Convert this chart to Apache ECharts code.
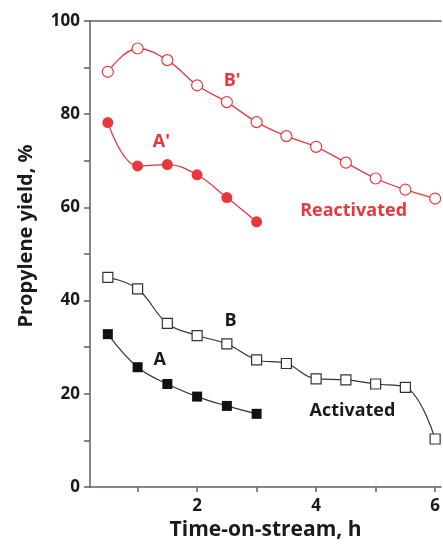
<!DOCTYPE html>
<html><head><meta charset="utf-8">
<script src="https://cdn.jsdelivr.net/npm/echarts@6/dist/echarts.min.js"></script>
<style>html,body{margin:0;padding:0;background:#fff}#c{width:443px;height:546px}</style>
</head><body><div id="c"></div>
<script>
const timeH = [0.5, 1, 1.5, 2, 2.5, 3, 3.5, 4, 4.5, 5, 5.5, 6];
const seriesA = [32.8, 25.7, 22.1, 19.4, 17.4, 15.7];
const seriesB = [45.0, 42.5, 35.1, 32.5, 30.7, 27.3, 26.5, 23.2, 23.0, 22.1, 21.4, 10.3];
const seriesA2 = [78.2, 68.9, 69.2, 67.0, 62.1, 56.9];
const seriesB2 = [89.1, 94.1, 91.6, 86.2, 82.6, 78.3, 75.3, 73.0, 69.6, 66.2, 63.8, 61.9];
const xTicks = [1, 2, 3, 4, 5, 6];
const xLabels = [2, 4, 6];
const yTicks = [0, 10, 20, 30, 40, 50, 60, 70, 80, 90, 100];

const RED = '#e8383d', BLACK = '#1a1a1a', AXIS = '#5b6068';
const FONT = 'Open Sans';
const pairs = (ys) => ys.map((v, i) => [timeH[i], v]);
function note(text, x, y, color, size) {
  return { coord: [x, y], symbol: 'circle', symbolSize: 0,
    label: { show: true, position: 'inside', formatter: text, color: color,
      fontFamily: FONT, fontWeight: 'bold', fontSize: size } };
}
const chart = echarts.init(document.getElementById('c'), null, { renderer: 'canvas' });
chart.setOption({
  animation: false,
  backgroundColor: '#fff',
  grid: { left: 90, right: 0, top: 21, bottom: 59 },
  graphic: [{
    type: 'text', x: 26, y: 236, rotation: Math.PI / 2,
    style: { text: 'Propylene yield, %', fill: BLACK, font: 'bold 20px "Open Sans"',
      align: 'center', verticalAlign: 'middle' }
  }],
  xAxis: [{
    type: 'value', min: 0.2, max: 6.1, position: 'bottom',
    name: 'Time-on-stream, h', nameLocation: 'middle', nameGap: 33,
    nameTextStyle: { fontFamily: FONT, fontWeight: 'bold', fontSize: 21, color: BLACK },
    axisLine: { show: true, lineStyle: { color: AXIS, width: 1.5 } },
    axisTick: { show: true, inside: false, length: 5, customValues: xTicks, lineStyle: { color: AXIS, width: 1.5 } },
    axisLabel: { customValues: xLabels, margin: 11, fontFamily: FONT, fontWeight: 'bold', fontSize: 17, color: BLACK },
    splitLine: { show: false }
  }, {
    type: 'value', min: 0.2, max: 6.1, position: 'top',
    axisLine: { show: true, lineStyle: { color: AXIS, width: 1.5 } },
    axisTick: { show: false }, axisLabel: { show: false }, splitLine: { show: false }
  }],
  yAxis: {
    type: 'value', min: 0, max: 100, interval: 10,
    axisLine: { show: true, lineStyle: { color: AXIS, width: 1.5 } },
    axisTick: { show: true, length: 6, customValues: yTicks, lineStyle: { color: AXIS, width: 1.5 } },
    axisLabel: { margin: 10, fontFamily: FONT, fontWeight: 'bold', fontSize: 17, color: BLACK,
      formatter: (v) => (v % 20 === 0 ? String(v) : '') },
    splitLine: { show: false }
  },
  series: [
    { name: 'B\'', type: 'line', data: pairs(seriesB2), smooth: 0.4,
      symbol: 'circle', symbolSize: 11,
      itemStyle: { color: '#fff', borderColor: RED, borderWidth: 1.2 },
      lineStyle: { color: RED, width: 1.3 },
      markPoint: { data: [note("B'", 2.59, 87.1, RED, 18), note('Reactivated', 4.63, 59.2, RED, 18)] } },
    { name: 'A\'', type: 'line', data: pairs(seriesA2), smooth: 0.4,
      symbol: 'circle', symbolSize: 11,
      itemStyle: { color: RED, borderColor: RED, borderWidth: 0 },
      lineStyle: { color: RED, width: 1.3 },
      markPoint: { data: [note("A'", 1.40, 74.0, RED, 18)] } },
    { name: 'B', type: 'line', data: pairs(seriesB), smooth: 0.4,
      symbol: 'rect', symbolSize: 10,
      itemStyle: { color: '#fff', borderColor: '#333', borderWidth: 1.2 },
      lineStyle: { color: '#333', width: 1.2 },
      markPoint: { data: [note('B', 2.56, 35.6, BLACK, 18), note('Activated', 4.61, 16.3, BLACK, 18)] } },
    { name: 'A', type: 'line', data: pairs(seriesA), smooth: 0.4,
      symbol: 'rect', symbolSize: 10,
      itemStyle: { color: '#111', borderColor: '#111', borderWidth: 0 },
      lineStyle: { color: '#333', width: 1.2 },
      markPoint: { data: [note('A', 1.37, 27.3, BLACK, 18)] } }
  ]
});
</script></body></html>
